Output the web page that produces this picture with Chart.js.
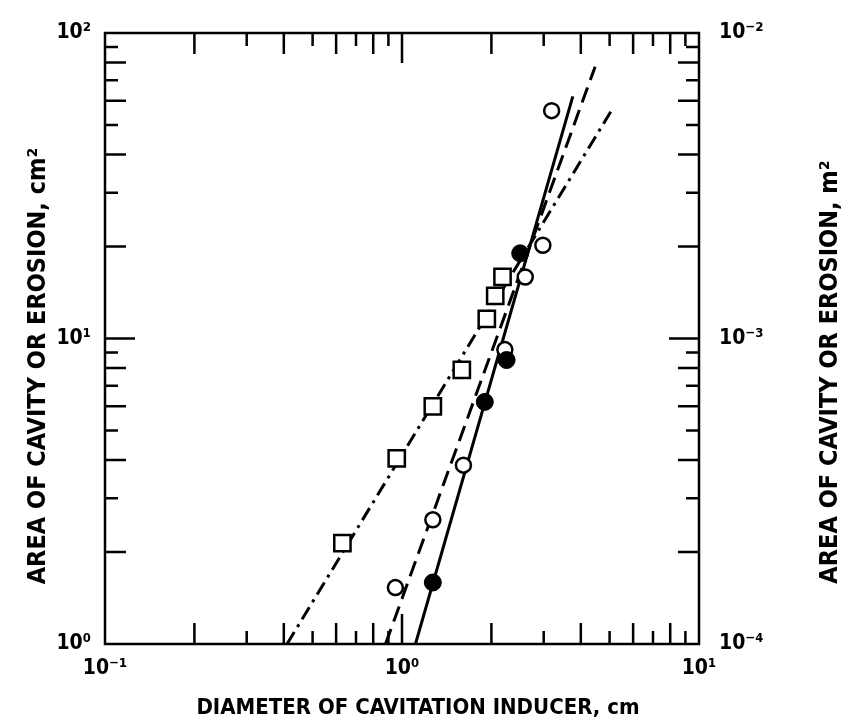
<!DOCTYPE html>
<html>
<head>
<meta charset="utf-8">
<script src="https://cdn.jsdelivr.net/npm/chart.js@4.4.1/dist/chart.umd.min.js"></script>
<style>
  body { margin: 0; background: #fff; }
  #wrap { width: 842px; height: 725px; }
</style>
</head>
<body>
<div id="wrap"><canvas id="logChart"></canvas></div>
<script>
// values (log-log)
const squareX = [0.63, 0.96, 1.27, 1.59, 1.93, 2.06, 2.18];
const squareY = [2.14, 4.05, 6.0, 7.9, 11.6, 13.8, 15.9];

const openX = [0.95, 1.27, 1.61, 2.22, 2.60, 2.98, 3.19];
const openY = [1.53, 2.55, 3.85, 9.2, 15.9, 20.2, 55.7];

const filledX = [1.27, 1.90, 2.25, 2.50];
const filledY = [1.59, 6.2, 8.5, 19.0];

// fitted lines, end points
const solidX = [1.11, 3.76];
const solidY = [1.0, 62];
const dashX = [0.88, 4.47];
const dashY = [1.0, 77.6];
const dashDotX = [0.41, 5.11];
const dashDotY = [1.0, 56.4];

const xTicks = [0.1, 1, 10];
const yTicks = [1, 10, 100];
const y2Ticks = [1e-4, 1e-3, 1e-2];
const xTickLabels = ['10⁻¹', '10⁰', '10¹'];
const yTickLabels = ['10⁰', '10¹', '10²'];
const y2TickLabels = ['10⁻⁴', '10⁻³', '10⁻²'];

const xTitle = 'DIAMETER OF CAVITATION INDUCER, cm';
const yTitle = 'AREA OF CAVITY OR EROSION, cm²';
const y2Title = 'AREA OF CAVITY OR EROSION, m²';

const FONT = "'Liberation Sans Narrow', 'DejaVu Sans Condensed', sans-serif";

const pts = (xs, ys) => xs.map((x, i) => ({ x: x, y: ys[i] }));

const frameTicks = {
  id: 'frameTicks',
  afterDatasetsDraw(chart) {
    const { ctx, chartArea: a, scales } = chart;
    const len = (m) => m === 1 ? 30 : (m % 2 === 0 ? 21 : 13);
    ctx.save();
    ctx.strokeStyle = '#000';
    ctx.lineWidth = 2.5;
    ctx.strokeRect(a.left, a.top, a.right - a.left, a.bottom - a.top);
    ctx.beginPath();
    [0.1, 1].forEach((d, k) => {
      for (let m = k === 0 ? 2 : 1; m <= 9; m++) {
        const px = scales.x.getPixelForValue(d * m);
        ctx.moveTo(px, a.bottom); ctx.lineTo(px, a.bottom - len(m));
        ctx.moveTo(px, a.top); ctx.lineTo(px, a.top + len(m));
      }
    });
    [1, 10].forEach((d, k) => {
      for (let m = k === 0 ? 2 : 1; m <= 9; m++) {
        const py = scales.y.getPixelForValue(d * m);
        ctx.moveTo(a.left, py); ctx.lineTo(a.left + len(m), py);
        const py2 = scales.y2.getPixelForValue(d * m * 1e-4);
        ctx.moveTo(a.right, py2); ctx.lineTo(a.right - len(m), py2);
      }
    });
    ctx.stroke();
    ctx.restore();
  },
  afterDraw(chart) {
    const { ctx } = chart;
    const rotated = (text, x, y) => {
      ctx.save();
      ctx.translate(x, y);
      ctx.rotate(-Math.PI / 2);
      ctx.fillText(text, 0, 0);
      ctx.restore();
    };
    ctx.save();
    ctx.fillStyle = '#000';
    ctx.textAlign = 'center';
    ctx.textBaseline = 'middle';
    ctx.font = 'bold 22px ' + FONT;
    ctx.fillText(xTitle, 418, 708);
    ctx.font = 'bold 25px ' + FONT;
    rotated(yTitle, 38, 366);
    rotated(y2Title, 830, 372);
    ctx.restore();
  }
};

const logAxis = (min, max, ticks, labels, position, fit) => ({
  type: 'logarithmic',
  position: position,
  min: min,
  max: max,
  grid: { display: false, drawTicks: false },
  border: { display: false },
  afterBuildTicks: (scale) => { scale.ticks = ticks.map(v => ({ value: v })); },
  afterFit: fit,
  ticks: {
    padding: position === 'bottom' ? 12 : (position === 'left' ? 14 : 20),
    color: '#000',
    font: { family: FONT, size: 21, weight: 'bold' },
    callback: (value) => labels[ticks.indexOf(value)]
  }
});

new Chart(document.getElementById('logChart'), {
  type: 'scatter',
  data: {
    datasets: [
      { data: pts(squareX, squareY), pointStyle: 'rect', pointRadius: 11.5,
        backgroundColor: '#fff', borderColor: '#000', borderWidth: 2.5, order: 1 },
      { data: pts(openX, openY), pointStyle: 'circle', pointRadius: 7.5,
        backgroundColor: '#fff', borderColor: '#000', borderWidth: 2.5, order: 2 },
      { data: pts(filledX, filledY), pointStyle: 'circle', pointRadius: 8.5,
        backgroundColor: '#000', borderColor: '#000', borderWidth: 1, order: 0 },
      { data: pts(solidX, solidY), showLine: true, pointRadius: 0,
        borderColor: '#000', borderWidth: 3, order: 5 },
      { data: pts(dashX, dashY), showLine: true, pointRadius: 0,
        borderColor: '#000', borderWidth: 3, borderDash: [16, 8], order: 5 },
      { data: pts(dashDotX, dashDotY), showLine: true, pointRadius: 0,
        borderColor: '#000', borderWidth: 3, borderDash: [14, 6, 3, 6], order: 5 }
    ]
  },
  options: {
    responsive: true,
    maintainAspectRatio: false,
    animation: false,
    layout: { padding: { top: 33, left: 0, right: 0, bottom: 0 } },
    plugins: { legend: { display: false }, tooltip: { enabled: false } },
    scales: {
      x: logAxis(0.1, 10, xTicks, xTickLabels, 'bottom', (s) => { s.height = 81; }),
      y: logAxis(1, 100, yTicks, yTickLabels, 'left', (s) => { s.width = 105; }),
      y2: logAxis(1e-4, 1e-2, y2Ticks, y2TickLabels, 'right', (s) => { s.width = 143; })
    }
  },
  plugins: [frameTicks]
});
</script>
</body>
</html>
